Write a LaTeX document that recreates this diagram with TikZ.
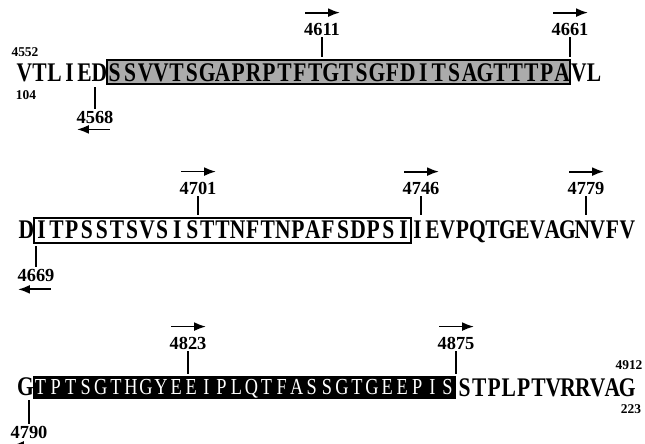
\documentclass[tikz,border=0pt]{standalone}
\usepackage{fontspec}
\setmainfont{Liberation Serif}
\newfontfamily\resfont[FakeStretch=0.8]{Liberation Serif}
\usetikzlibrary{arrows.meta,fit}

\tikzset{
    residue/.style={
        font=\resfont\bfseries\fontsize{27}{27}\selectfont,
        inner sep=0pt,
        anchor=base
    },
    residuewhite/.style={
        font=\resfont\fontsize{23}{23}\selectfont,
        text=white,
        inner sep=0pt,
        anchor=base
    },
    sitelabel/.style={font=\bfseries\fontsize{18.5}{18.5}\selectfont, inner sep=0pt},
    sitesmall/.style={font=\bfseries\fontsize{13.5}{13.5}\selectfont, inner sep=0pt},
    graybox/.style={draw=black, fill=black!33, line width=1.3pt, inner sep=0pt},
    openbox/.style={draw=black, fill=white, line width=1.3pt, inner sep=0pt},
    darkbox/.style={draw=black, fill=black, inner sep=0pt},
    tick/.style={draw=black, line width=1.3pt, shorten <=2pt, shorten >=2pt},
    fwd/.style={-{Latex[length=12pt,width=9pt]}, line width=1.8pt},
    rev/.style={{Latex[length=12pt,width=9pt]}-, line width=1.8pt}
}

\begin{document}
\begin{tikzpicture}[x=1bp, y=-1bp]
\clip (0,0) rectangle (645,444);

% Row 1: shaded segment
\node[graybox, fit={(107,60) (570,84)}] (box1) {};
\foreach \c [count=\i] in {V,T,L,I,E,D}
    \node[residue] (pre1-\i) at ({9.5+15*\i},82) {\c};
\foreach \c [count=\i] in {S,S,V,V,T,S,G,A,P,R,P,T,F,T,G,T,S,G,F,D,I,T,S,A,G,T,T,T,P,A}
    \node[residue] (in1-\i) at ({107+15.43*(\i-0.5)},82) {\c};
\foreach \c [count=\i] in {V,L}
    \node[residue] (post1-\i) at ({564+15*\i},82) {\c};

\node[sitesmall] (n4552) at (25,52) {4552};
\node[sitesmall] (n104) at (26,95) {104};

\node[sitelabel] (n4611) at (322,29) {4611};
\node[sitelabel] (n4661) at (570,29) {4661};
\node[sitelabel] (n4568) at (95,117) {4568};

\draw[tick] (n4611) -- (n4611 |- box1.north);
\draw[tick] (n4661) -- (n4661 |- box1.north);
\draw[tick] (n4568) -- (n4568 |- box1.south);

\draw[fwd] ([shift={(-17,-10)}]n4611.north) -- ++(35,0);
\draw[fwd] ([shift={(-17,-10)}]n4661.north) -- ++(35,0);
\draw[rev] ([shift={(-18,6)}]n4568.south) -- ++(33,0);

% Row 2: open segment
\node[openbox, fit={(34,218) (411,243)}] (box2) {};
\node[residue] (pre2-1) at (26.5,239) {D};
\foreach \c [count=\i] in {I,T,P,S,S,T,S,V,S,I,S,T,T,N,F,T,N,P,A,F,S,D,P,S,I}
    \node[residue] (in2-\i) at ({34+15.08*(\i-0.5)},239) {\c};
\foreach \c [count=\i] in {I,E,V,P,Q,T,G,E,V,A,G,N,V,F,V}
    \node[residue] (post2-\i) at ({402.5+15*\i},239) {\c};

\node[sitelabel] (n4701) at (198,188) {4701};
\node[sitelabel] (n4746) at (421,188) {4746};
\node[sitelabel] (n4779) at (586,188) {4779};
\node[sitelabel] (n4669) at (36,275) {4669};

\draw[tick] (n4701) -- (n4701 |- box2.north);
\draw[tick] (n4746) -- (n4746 |- box2.north);
\draw[tick] (n4779) -- (n4779 |- box2.north);
\draw[tick] (n4669) -- (n4669 |- box2.south);

\draw[fwd] ([shift={(-17,-10)}]n4701.north) -- ++(35,0);
\draw[fwd] ([shift={(-17,-10)}]n4746.north) -- ++(35,0);
\draw[fwd] ([shift={(-17,-10)}]n4779.north) -- ++(35,0);
\draw[rev] ([shift={(-18,8)}]n4669.south) -- ++(33,0);

% Row 3: dark segment
\node[darkbox, fit={(33,376) (455,398)}] (box3) {};
\node[residue] (pre3-1) at (25.5,395) {G};
\foreach \c [count=\i] in {T,P,T,S,G,T,H,G,Y,E,E,I,P,L,Q,T,F,A,S,S,G,T,G,E,E,P,I,S}
    \node[residuewhite] (in3-\i) at ({33+15.07*(\i-0.5)},394) {\c};
\foreach \c [count=\i] in {S,T,P,L,P,T,V,R,R,V,A,G}
    \node[residue] (post3-\i) at ({449.7+14.8*\i},396) {\c};

\node[sitesmall] (n4912) at (629,365) {4912};
\node[sitesmall] (n223) at (631,409) {223};

\node[sitelabel] (n4823) at (188,343) {4823};
\node[sitelabel] (n4875) at (456,343) {4875};
\node[sitelabel] (n4790) at (29,432) {4790};

\draw[tick] (n4823) -- (n4823 |- box3.north);
\draw[tick] (n4875) -- (n4875 |- box3.north);
\draw[tick] (n4790) -- (n4790 |- box3.south);

\draw[fwd] ([shift={(-17,-10)}]n4823.north) -- ++(35,0);
\draw[fwd] ([shift={(-17,-10)}]n4875.north) -- ++(35,0);
\draw[rev] ([shift={(-17,7)}]n4790.south) -- ++(33,0);
\end{tikzpicture}
\end{document}
